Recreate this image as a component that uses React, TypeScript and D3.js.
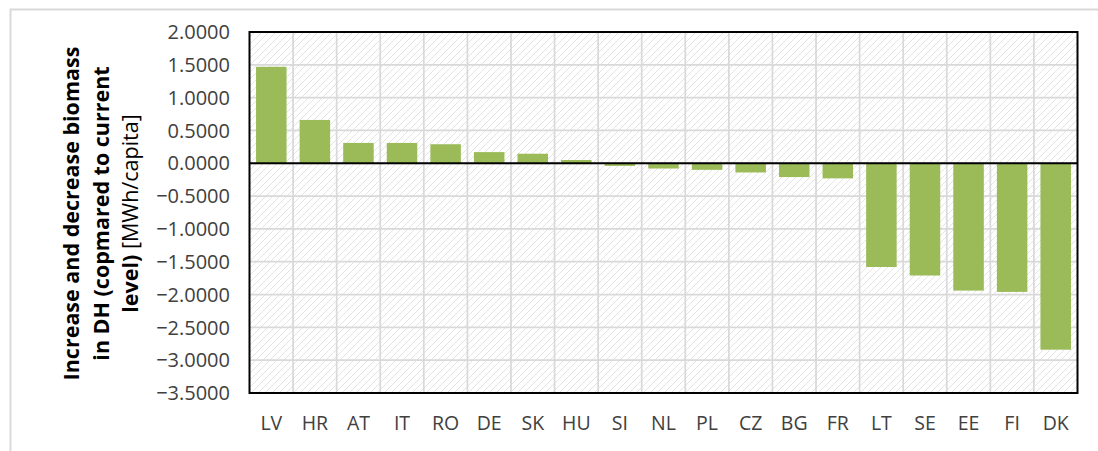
import React from "react";
import * as d3 from "d3";

const categories = ["LV","HR","AT","IT","RO","DE","SK","HU","SI","NL","PL","CZ","BG","FR","LT","SE","EE","FI","DK"];
const values = [1.47,0.66,0.31,0.31,0.29,0.17,0.145,0.05,-0.04,-0.08,-0.10,-0.14,-0.21,-0.23,-1.58,-1.71,-1.94,-1.96,-2.84];
const yTicks = [2.0,1.5,1.0,0.5,0.0,-0.5,-1.0,-1.5,-2.0,-2.5,-3.0,-3.5];
const yLabelLines = ["Increase and decrease biomass","in DH (copmared to current","level) "];
const yLabelUnit = "[MWh/capita]";

const W = 1098, H = 451;
const plot = { left: 249.5, right: 1077.5, top: 32, bottom: 393 };
const FONT = "'Open Sans', 'Liberation Sans', sans-serif";

export default function App() {
  const x = d3.scaleBand<string>().domain(categories).range([plot.left, plot.right]).paddingInner(0.3).paddingOuter(0.15);
  const xBounds = d3.scaleBand<string>().domain(categories).range([plot.left, plot.right]);
  const y = d3.scaleLinear().domain([-3.5, 2.0]).range([plot.bottom, plot.top]);
  const fmt = d3.format(".4f");
  return (
    <svg width={W} height={H} style={{ position: "absolute", left: 0, top: 0, background: "#fff" }} xmlns="http://www.w3.org/2000/svg">
      <defs>
        <pattern id="hatch" patternUnits="userSpaceOnUse" width="7" height="7">
          <rect width="7" height="7" fill="#ffffff" />
          <path d="M-1,1 l2,-2 M0,7 l7,-7 M6,8 l2,-2" stroke="#e4e4e4" strokeWidth="1" />
        </pattern>
      </defs>
      {/* outer frame */}
      <path d={`M10.5,${H + 2} V9.5 H${W + 2}`} fill="none" stroke="#d9d9d9" strokeWidth={2} />
      <rect x={plot.left} y={plot.top} width={plot.right - plot.left} height={plot.bottom - plot.top} fill="url(#hatch)" />
      {/* grid */}
      {yTicks.map((t) => (
        <line key={"h" + t} x1={plot.left} x2={plot.right} y1={y(t)} y2={y(t)} stroke="#d9d9d9" strokeWidth={1.75} />
      ))}
      {categories.slice(1).map((c) => (
        <line key={"v" + c} x1={xBounds(c)!} x2={xBounds(c)!} y1={plot.top} y2={plot.bottom} stroke="#d9d9d9" strokeWidth={1.75} />
      ))}
      {/* bars */}
      {categories.map((c, i) => (
        <rect key={c} x={x(c)!} width={x.bandwidth()} y={y(Math.max(0, values[i]))} height={Math.abs(y(values[i]) - y(0))} fill="#9bbb59" />
      ))}
      {/* zero line */}
      <line x1={plot.left} x2={plot.right} y1={y(0)} y2={y(0)} stroke="#000" strokeWidth={2} />
      {/* plot border */}
      <rect x={plot.left} y={plot.top} width={plot.right - plot.left} height={plot.bottom - plot.top} fill="none" stroke="#000" strokeWidth={2} />
      {/* y ticks */}
      {yTicks.map((t) => (
        <text key={"t" + t} x={230} y={y(t)} dy="0.36em" textAnchor="end" fontFamily={FONT} fontSize={20} fill="#404040">{fmt(t)}</text>
      ))}
      {/* x labels */}
      {categories.map((c) => (
        <text key={"x" + c} x={x(c)! + x.bandwidth() / 2} y={430} textAnchor="middle" fontFamily={FONT} fontSize={19.5} fill="#404040">{c}</text>
      ))}
      {/* y label */}
      <g transform={`translate(0, ${(plot.top + plot.bottom) / 2 + 1}) rotate(-90)`}>
        {yLabelLines.map((l, i) => (
          <text key={l} x={0} y={79 + i * 29.5} textAnchor="middle" fontFamily={FONT} fontWeight="bold" fontSize={21.5} fill="#000" xmlSpace="preserve">
            {l}
            {i === yLabelLines.length - 1 ? <tspan fontWeight="normal">{yLabelUnit}</tspan> : null}
          </text>
        ))}
      </g>
    </svg>
  );
}
